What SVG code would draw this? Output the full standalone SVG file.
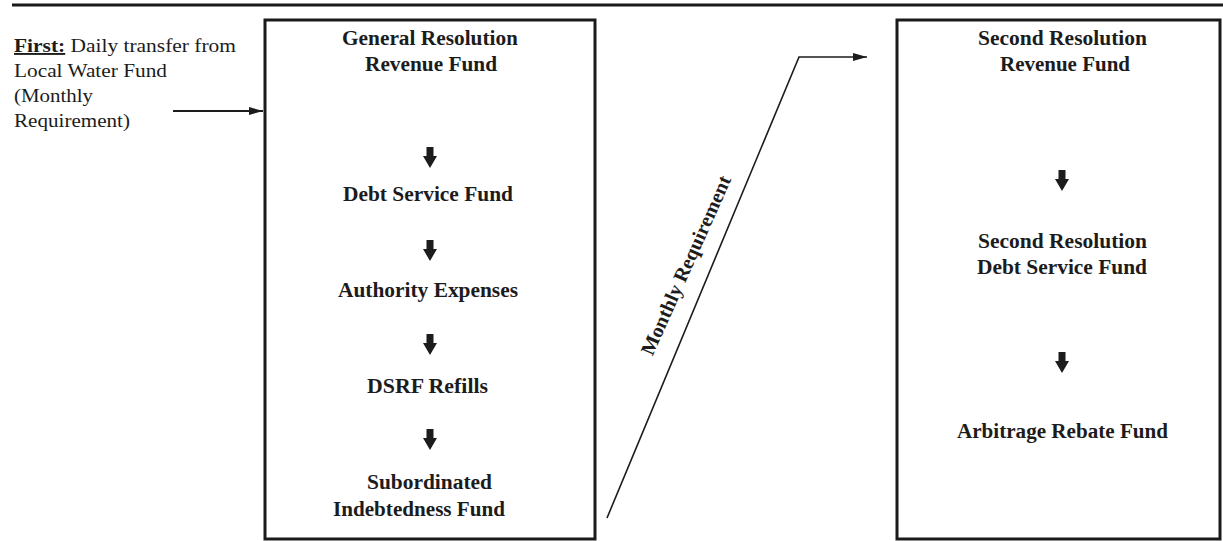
<svg xmlns="http://www.w3.org/2000/svg" width="1223" height="541" viewBox="0 0 1223 541">
<style>
.box{fill:#fff;stroke:#1a1a1a;stroke-width:3}
.t{font-family:"Liberation Serif","Times New Roman",serif;fill:#1c1c1c}
.b{font-weight:bold;font-size:20px}
.r{font-size:19px}
.ln{stroke:#1c1c1c;fill:none}
</style>
<defs>
<path id="dn" d="M-3.5,0 H3.5 V9 H7 L0,21 L-7,9 H-3.5 Z" fill="#1c1c1c"/>
<marker id="tip" viewBox="0 0 14 8" refX="14" refY="4" markerWidth="14" markerHeight="8" markerUnits="userSpaceOnUse" orient="auto">
<path d="M0,0 L14,4 L0,8 Z" fill="#1c1c1c"/>
</marker>
</defs>
<rect width="1223" height="541" fill="#fff"/>
<line x1="12" y1="5" x2="1223" y2="5" stroke="#1a1a1a" stroke-width="3"/>

<g id="source">
<text class="t r" x="14" y="52" textLength="222" lengthAdjust="spacingAndGlyphs"><tspan font-weight="bold" text-decoration="underline">First:</tspan> Daily transfer from</text>
<text class="t r" x="14" y="77" textLength="153" lengthAdjust="spacingAndGlyphs">Local Water Fund</text>
<text class="t r" x="14" y="102" textLength="79" lengthAdjust="spacingAndGlyphs">(Monthly</text>
<text class="t r" x="14" y="127" textLength="116" lengthAdjust="spacingAndGlyphs">Requirement)</text>
</g>

<g id="general-resolution">
<rect class="box" x="265" y="20" width="330" height="519"/>
<text class="t b" x="342" y="45" textLength="176" lengthAdjust="spacingAndGlyphs">General Resolution</text>
<text class="t b" x="365" y="71" textLength="132" lengthAdjust="spacingAndGlyphs">Revenue Fund</text>
<use href="#dn" x="430" y="147"/>
<text class="t b" x="343" y="201" textLength="170" lengthAdjust="spacingAndGlyphs">Debt Service Fund</text>
<use href="#dn" x="430" y="240"/>
<text class="t b" x="338" y="297" textLength="180" lengthAdjust="spacingAndGlyphs">Authority Expenses</text>
<use href="#dn" x="430" y="334"/>
<text class="t b" x="367" y="393" textLength="121" lengthAdjust="spacingAndGlyphs">DSRF Refills</text>
<use href="#dn" x="430" y="429"/>
<text class="t b" x="367" y="489" textLength="125" lengthAdjust="spacingAndGlyphs">Subordinated</text>
<text class="t b" x="333" y="516" textLength="172" lengthAdjust="spacingAndGlyphs">Indebtedness Fund</text>
</g>

<g id="second-resolution">
<rect class="box" x="897" y="20" width="323" height="519"/>
<text class="t b" x="978" y="45" textLength="169" lengthAdjust="spacingAndGlyphs">Second Resolution</text>
<text class="t b" x="1000" y="71" textLength="130" lengthAdjust="spacingAndGlyphs">Revenue Fund</text>
<use href="#dn" x="1062" y="170"/>
<text class="t b" x="978" y="248" textLength="169" lengthAdjust="spacingAndGlyphs">Second Resolution</text>
<text class="t b" x="977" y="274" textLength="170" lengthAdjust="spacingAndGlyphs">Debt Service Fund</text>
<use href="#dn" x="1062" y="352"/>
<text class="t b" x="957" y="438" textLength="211" lengthAdjust="spacingAndGlyphs">Arbitrage Rebate Fund</text>
</g>

<g id="connectors">
<line class="ln" x1="173" y1="111" x2="263" y2="111" stroke-width="2" marker-end="url(#tip)"/>
<polyline class="ln" points="607,518 799,57 867,57" stroke-width="1.6" marker-end="url(#tip)"/>
<text class="t b" font-size="16px" transform="translate(692,268) rotate(-66)" text-anchor="middle" textLength="194" lengthAdjust="spacingAndGlyphs">Monthly Requirement</text>
</g>
</svg>
